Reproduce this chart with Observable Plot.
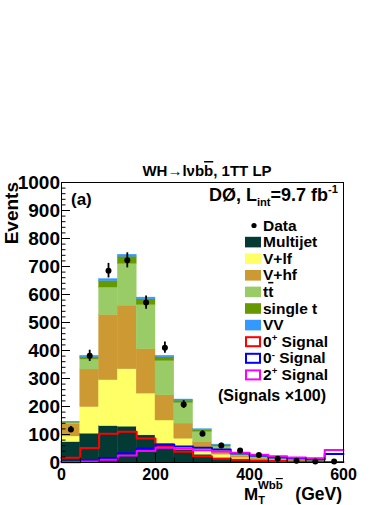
<!DOCTYPE html>
<html><head><meta charset="utf-8">
<script src="https://cdn.jsdelivr.net/npm/d3@7"></script>
<script src="https://cdn.jsdelivr.net/npm/@observablehq/plot@0.6"></script>
<style>body{margin:0;background:#fff}svg{display:block}</style>
</head><body><div id="chart"></div>
<script>
// ---- data ----
const binLow  = [0,40,80,120,160,200,240,280,320,360,400,440,480,520,560];
const binHigh = [40,80,120,160,200,240,280,320,360,400,440,480,520,560,600];
const componentNames = ["Multijet","V+lf","V+hf","ttbar","single t","VV"];
const multijet  = [73,103,130,128,97,67,45,28,16,10,6,4,2,1,1];
const vPlusLf   = [20,95,164,205,149,83,40,22,12,7,4,2,2,1,0];
const vPlusHf   = [44,134,233,227,159,90,54,23,12,7,4,2,1,1,1];
const ttbar     = [5,36,98,150,158,123,74,37,17,7,4,3,2,1,1];
const singleTop = [1,8,23,25,20,13,8,6,5,3,2,1,1,1,0];
const diboson   = [2,5,7,7,6,5,4,3,2,1,1,1,0,0,0];
const dataCounts = [118,381,685,722,571,410,207,103,61,43,27,13,6,4,4];
const dataErrors = [11,20,26,27,24,20,14,10,8,7,5,4,2,2,2];
const signalNames = ["0+","0-","2+"];
const sig0plus  = [17,52,103,110,86,55,38,22,13,10,7,5,3,2,2];
const sig0minus = [3,7,16,33,50,64,57,53,46,32,25,19,15,12,30];
const sig2plus  = [1,4,10,25,41,53,49,44,39,35,28,22,18,15,45];
const yMajorTicks = [0,100,200,300,400,500,600,700,800,900,1000];
const yMinorTicks = d3.range(0, 1001, 20);
const xMajorTicks = [0,200,400,600];
const xMinorTicks = d3.range(0, 601, 40);

// ---- styles ----
const componentColors = ["#033a34","#ffff66","#cc9933","#99cc66","#669900","#3399ff"];
const signalColors = ["#ff0000","#0000ff","#ff00ff"];
const FONT = "'Liberation Sans', Arial, Helvetica, sans-serif";

// ---- derived tables ----
const componentValues = [multijet, vPlusLf, vPlusHf, ttbar, singleTop, diboson];
const rects = [];
binLow.forEach((lo, i) => {
  let cum = 0;
  componentValues.forEach((vals, c) => {
    rects.push({lo, hi: binHigh[i], y1: cum, y2: cum + vals[i], comp: componentNames[c]});
    cum += vals[i];
  });
});
const signalValues = [sig0plus, sig0minus, sig2plus];
const steps = signalValues.map((vals, s) => {
  const pts = binLow.map((lo, i) => ({x: lo, y: vals[i]}));
  pts.push({x: binHigh[binHigh.length - 1], y: vals[vals.length - 1]});
  return pts;
});
const dataPts = binLow.map((lo, i) => ({c: (lo + binHigh[i]) / 2, v: dataCounts[i], e: dataErrors[i]}));

const W = 390, H = 505;
const fmt = d => String(d);
const chart = Plot.plot({
  width: W, height: H,
  marginLeft: 61, marginRight: 47, marginTop: 182, marginBottom: 43,
  style: {fontFamily: FONT, color: "black", background: "white", overflow: "visible"},
  x: {domain: [0, 600]},
  y: {domain: [0, 1000]},
  color: {domain: componentNames, range: componentColors},
  marks: [
    Plot.rect(rects, {x1: "lo", x2: "hi", y1: "y1", y2: "y2", fill: "comp", stroke: "comp", strokeWidth: 0.4}),
    ...steps.map((pts, s) => Plot.line(pts, {x: "x", y: "y", curve: "step-after", stroke: signalColors[s], strokeWidth: 2})),
    Plot.ruleX(dataPts, {x: "c", y1: d => d.v - d.e, y2: d => d.v + d.e, stroke: "black", strokeWidth: 1.8}),
    Plot.dot(dataPts, {x: "c", y: "v", r: 3, fill: "black"}),
    Plot.frame({stroke: "black", strokeWidth: 1}),
    Plot.axisY(yMinorTicks, {tickSize: -4.5, fill: "none", label: null}),
    Plot.axisY(yMajorTicks, {tickSize: -9, fill: "none", label: null}),
    Plot.axisY(yMajorTicks, {tickSize: 0, tickPadding: 1.5, tickFormat: fmt, fontSize: 19, fontWeight: "bold", label: null}),
    Plot.axisX(xMinorTicks, {tickSize: -4.5, fill: "none", label: null}),
    Plot.axisX(xMajorTicks, {tickSize: -9, fill: "none", label: null}),
    Plot.axisX(xMajorTicks, {tickSize: 0, tickPadding: 6, tickFormat: fmt, fontSize: 16, fontWeight: "bold", label: null})
  ]
});
document.getElementById("chart").appendChild(chart);

// ---- annotations ----
const svg = d3.select(chart);
const g = svg.append("g").attr("font-family", FONT).attr("font-weight", "bold")
  .attr("fill", "black").attr("text-anchor", "start");

function rich(sel, parts, size, supShift = 0.42) {
  let cur = 0;
  for (const p of parts) {
    const ts = sel.append("tspan");
    let off = 0, txt = p, fs = null, bar = false;
    if (typeof p !== "string") {
      txt = p.t;
      if (p.sup) { off = -size * supShift; fs = size * 0.62; }
      if (p.sub) { off = size * 0.28; fs = size * 0.62; }
      if (p.bar) bar = true;
    }
    ts.text(txt);
    if (off - cur !== 0) ts.attr("dy", off - cur);
    cur = off;
    if (fs) ts.attr("font-size", fs);
    if (bar) ts.attr("text-decoration", "overline");
  }
}

// title
const t1 = g.append("text").attr("x", 207).attr("y", 176).attr("text-anchor", "middle").attr("font-size", 15);
rich(t1, ["WH\u2192l\u03BDb", {t: "b", bar: true}, ", 1TT LP"], 15);

// (a)
g.append("text").attr("x", 71).attr("y", 205).attr("font-size", 17).text("(a)");

// DØ label
const t2 = g.append("text").attr("x", 338).attr("y", 200.5).attr("text-anchor", "end").attr("font-size", 18);
rich(t2, ["D\u00D8, L", {t: "int", sub: true}, "=9.7 fb", {t: "-1", sup: true}], 18);

// y label
g.append("text").attr("transform", "translate(18,182) rotate(-90)").attr("text-anchor", "end")
  .attr("font-size", 19).text("Events");

// x label
const t3 = g.append("text").attr("x", 244).attr("y", 500).attr("font-size", 17);
t3.append("tspan").text("M");
t3.append("tspan").attr("font-size", 11).attr("dy", 4).text("T");
const sup = t3.append("tspan").attr("font-size", 11.5).attr("dx", -7).attr("dy", -15);
sup.append("tspan").text("Wb");
sup.append("tspan").attr("text-decoration", "overline").text("b");
g.append("text").attr("x", 342).attr("y", 500).attr("text-anchor", "end").attr("font-size", 17.5).text("(GeV)");

// legend
const LS = 15.5;
const legend = [
  {kind: "dot", parts: ["Data"]},
  {kind: "fill", color: componentColors[0], parts: ["Multijet"]},
  {kind: "fill", color: componentColors[1], parts: ["V+lf"]},
  {kind: "fill", color: componentColors[2], parts: ["V+hf"]},
  {kind: "fill", color: componentColors[3], parts: ["t", {t: "t", bar: true}]},
  {kind: "fill", color: componentColors[4], parts: ["single t"]},
  {kind: "fill", color: componentColors[5], parts: ["VV"]},
  {kind: "line", color: signalColors[0], parts: ["0", {t: "+", sup: true}, " Signal"]},
  {kind: "line", color: signalColors[1], parts: ["0", {t: "-", sup: true}, " Signal"]},
  {kind: "line", color: signalColors[2], parts: ["2", {t: "+", sup: true}, " Signal"]}
];
legend.forEach((e, i) => {
  const cy = 225.5 + 16.6 * i;
  if (e.kind === "dot") {
    g.append("circle").attr("cx", 254).attr("cy", cy).attr("r", 2.6).attr("fill", "black");
  } else if (e.kind === "fill") {
    g.append("rect").attr("x", 245).attr("y", cy - 5.3).attr("width", 16).attr("height", 10.6).attr("fill", e.color);
  } else {
    g.append("rect").attr("x", 246).attr("y", cy - 4.5).attr("width", 14).attr("height", 9)
      .attr("fill", "white").attr("stroke", e.color).attr("stroke-width", 2);
  }
  const tx = g.append("text").attr("x", 263).attr("y", cy + 5).attr("font-size", LS);
  rich(tx, e.parts, LS, 0.36);
});
g.append("text").attr("x", 218).attr("y", 400.5).attr("font-size", 16).text("(Signals \u00D7100)");
</script>
</body></html>
